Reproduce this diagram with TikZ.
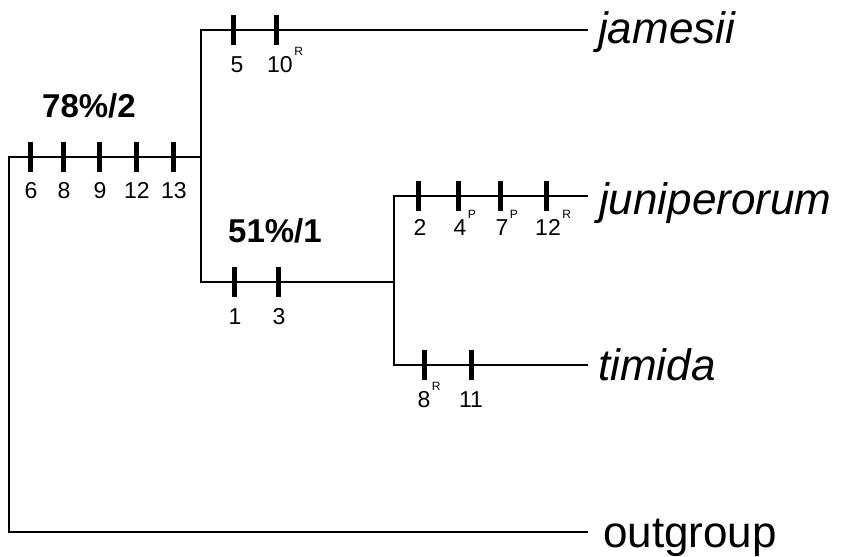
\documentclass[tikz,border=0pt]{standalone}
\usepackage{fontspec}
\setmainfont{Liberation Sans}
\newcommand\supR[1]{\rlap{\hspace{1.5pt}\raisebox{17pt}{\fontsize{12}{12}\selectfont #1}}}
\begin{document}
\begin{tikzpicture}[x=1pt,y=-1pt,
  branch/.style={line width=2.4pt},
  tickmark/.style={line width=5pt},
  tlab/.style={anchor=base,inner sep=0pt,font=\fontsize{23}{23}\selectfont},
  support/.style={anchor=base west,inner sep=0pt,font=\fontsize{33}{33}\selectfont\bfseries},
  taxon/.style={anchor=base west,inner sep=0pt,font=\fontsize{44}{44}\selectfont},
  taxit/.style={taxon,font=\fontsize{44}{44}\selectfont\itshape}]
\useasboundingbox (0,0) rectangle (847,557);
% branch points
\coordinate (root) at (9,157);
\coordinate (n1) at (201,157);
\coordinate (n2) at (201,282);
\coordinate (n3) at (394,282);
\coordinate (n3b) at (394,365);
\coordinate (jamE) at (588,30);
\coordinate (junE) at (588,196);
\coordinate (timE) at (588,365);
\coordinate (ogE) at (588,532);
% branches
\draw[branch] (ogE) -| (root) -- (n1);
\draw[branch] (jamE) -| (n2) -- (n3);
\draw[branch] (junE) -| (n3b) -- (timE);
% ticks and labels
\foreach \x/\l/\s [count=\i] in {30/6/,63/8/,99/9/,136/12/,173/13/}{
  \draw[tickmark] (\x,142) -- (\x,172);
  \node[tlab] (a\i) at (\x+1,198) {\l\supR{\s}};
}
\foreach \x/\l/\s [count=\i] in {233/5/,276/10/R}{
  \draw[tickmark] (\x,15) -- (\x,45);
  \node[tlab] (b\i) at (\x+4,72) {\l\supR{\s}};
}
\foreach \x/\l/\s [count=\i] in {234/1/,278/3/}{
  \draw[tickmark] (\x,267) -- (\x,297);
  \node[tlab] (c\i) at (\x+1,324) {\l\supR{\s}};
}
\foreach \x/\l/\s [count=\i] in {418/2/,458/4/P,500/7/P,546/12/R}{
  \draw[tickmark] (\x,181) -- (\x,211);
  \node[tlab] (d\i) at (\x+2,235) {\l\supR{\s}};
}
\foreach \x/\l/\s [count=\i] in {424/8/R,471/11/}{
  \draw[tickmark] (\x,350) -- (\x,380);
  \node[tlab] (e\i) at (\x,407) {\l\supR{\s}};
}
% support values
\node[support] (s1) at (42,117) {78\%/2};
\node[support] (s2) at (228,242) {51\%/1};
% taxa
\node[taxit] (jam) at (598,43) {jamesii};
\node[taxit] (jun) at (599,214) {juniperorum};
\node[taxit] (tim) at (598,380) {timida};
\node[taxon] (og) at (603,547) {outgroup};
\end{tikzpicture}
\end{document}
